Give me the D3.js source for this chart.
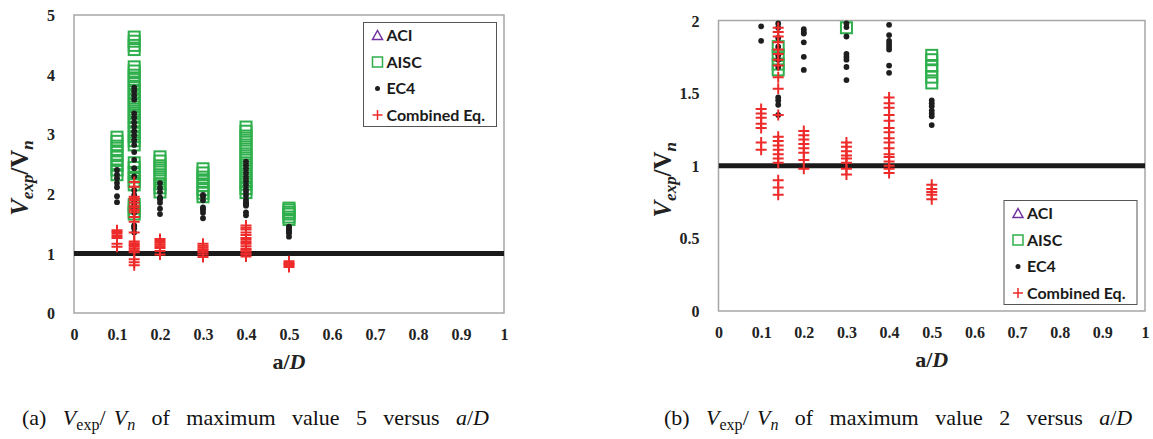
<!DOCTYPE html>
<html>
<head>
<meta charset="utf-8">
<script src="https://cdn.jsdelivr.net/npm/d3@7"></script>
<style>
  body { margin: 0; background: #fff; }
  svg text { white-space: pre; }
  .serif { font-family: "Liberation Serif", "DejaVu Serif", "Times New Roman", serif; }
</style>
</head>
<body>
<svg id="chart" width="1153" height="439"></svg>
<script>
// a/D columns
var aD = [0.1, 0.14, 0.2, 0.3, 0.4, 0.5];

// Vexp/Vn per column (same order as aD)
var aci = [[], [], [], [], [], []]; // no visible points in either panel
var aisc = [
  [2.95, 2.88, 2.8, 2.72, 2.64, 2.56, 2.48, 2.4, 2.32],
  [4.63, 4.56, 4.49, 4.42, 4.13, 4.06, 3.99, 3.92, 3.85, 3.78, 3.71, 3.64, 3.57, 3.5, 3.42, 3.35, 3.28, 3.2, 3.12, 3.04, 2.96, 2.89, 2.82, 2.52, 2.44, 2.36, 2.28, 2.21, 2.15, 1.82, 1.76, 1.7, 1.66],
  [2.62, 2.55, 2.47, 2.4, 2.32, 2.25, 2.17, 2.1, 2.03],
  [2.42, 2.35, 2.28, 2.21, 2.14, 2.07, 2.01, 1.95],
  [3.12, 3.05, 2.97, 2.9, 2.82, 2.75, 2.67, 2.6, 2.52, 2.45, 2.38, 2.3, 2.23, 2.16, 2.09, 2.02],
  [1.76, 1.73, 1.69, 1.66, 1.61, 1.57]
];
var ec4 = [
  [2.4, 2.32, 2.26, 2.18, 2.11, 1.96, 1.86],
  [3.78, 3.72, 3.65, 3.58, 3.35, 3.28, 3.2, 3.13, 3.05, 2.98, 2.9, 2.82, 2.7, 2.57, 2.43, 2.29, 2.06, 1.98, 1.95, 1.88, 1.82, 1.76, 1.73, 1.68, 1.47, 1.45, 1.42, 1.35],
  [2.18, 2.1, 2.03, 1.94, 1.92, 1.91, 1.85, 1.75, 1.66],
  [1.98, 1.955, 1.89, 1.77, 1.75, 1.73, 1.68, 1.59],
  [2.54, 2.48, 2.42, 2.35, 2.28, 2.22, 2.15, 2.08, 2.03, 1.97, 1.9, 1.86, 1.84, 1.82, 1.8, 1.69, 1.64],
  [1.45, 1.43, 1.41, 1.38, 1.36, 1.34, 1.28]
];
var combined = [
  [1.39, 1.36, 1.33, 1.29, 1.26, 1.16, 1.11],
  [2.2, 2.12, 1.95, 1.92, 1.89, 1.85, 1.8, 1.77, 1.73, 1.69, 1.61, 1.53, 1.35, 1.2, 1.17, 1.14, 1.11, 1.08, 1.05, 1.02, 0.9, 0.85, 0.8],
  [1.24, 1.21, 1.18, 1.15, 1.12, 1.09, 1.04, 0.98],
  [1.16, 1.13, 1.1, 1.07, 1.05, 1.02, 0.98, 0.94],
  [1.47, 1.43, 1.4, 1.35, 1.31, 1.26, 1.23, 1.19, 1.16, 1.12, 1.08, 1.06, 1.03, 1.0, 0.98, 0.95],
  [0.87, 0.84, 0.82, 0.8, 0.77]
];

var xTicks = [0, 0.1, 0.2, 0.3, 0.4, 0.5, 0.6, 0.7, 0.8, 0.9, 1];
var yTicksA = [0, 1, 2, 3, 4, 5];
var yTicksB = [0, 0.5, 1, 1.5, 2];
var legendLabels = ["ACI", "AISC", "EC4", "Combined Eq."];

var GREEN = "#2eaf4c", RED = "#ee2b2b", PURPLE = "#7030a0", DOT = "#1e1e1e";

function flat(series) {
  var out = [];
  series.forEach(function(col, i) { col.forEach(function(v) { out.push({x: aD[i], y: v}); }); });
  return out;
}

var svg = d3.select("#chart");

function panel(o) {
  var x = d3.scaleLinear().domain([0, 1]).range([o.left, o.right]);
  var y = d3.scaleLinear().domain([0, o.ymax]).range([o.bottom, o.top]);
  var g = svg.append("g");

  g.append("clipPath").attr("id", o.id + "clip")
    .append("rect").attr("x", o.left).attr("y", o.top - 0.5)
    .attr("width", o.right - o.left).attr("height", o.bottom - o.top + 1);

  // frame
  g.append("rect").attr("x", o.left).attr("y", o.top)
    .attr("width", o.right - o.left).attr("height", o.bottom - o.top)
    .attr("fill", "none").attr("stroke", "#a6a6a6").attr("stroke-width", 1.5);

  // axes (labels only)
  var xa = g.append("g").attr("transform", "translate(0," + (o.bottom + 13) + ")")
    .call(d3.axisBottom(x).tickValues(xTicks).tickSize(0).tickFormat(d3.format("")));
  var ya = g.append("g").attr("transform", "translate(" + (o.left - 16) + ",0)")
    .call(d3.axisLeft(y).tickValues(o.yticks).tickSize(0).tickFormat(d3.format("")));
  [xa, ya].forEach(function(a) {
    a.attr("font-family", null);
    a.select(".domain").remove();
    a.selectAll("text").attr("class", "serif")
      .attr("font-weight", "bold").attr("font-size", 16).attr("fill", "#222");
  });
  ya.selectAll("text").attr("dy", "0.35em");

  var plot = g.append("g").attr("clip-path", "url(#" + o.id + "clip)");

  // reference line Vexp/Vn = 1
  plot.append("line").attr("x1", x(0)).attr("x2", x(1))
    .attr("y1", y(1)).attr("y2", y(1))
    .attr("stroke", "#1a1a1a").attr("stroke-width", 5);

  var keep = function(d) { return d.y <= o.ymax; };

  plot.selectAll("rect.aisc").data(flat(aisc).filter(keep)).enter().append("rect")
    .attr("class", "aisc")
    .attr("x", function(d) { return x(d.x) - 5.5; })
    .attr("y", function(d) { return y(d.y) - 5.5; })
    .attr("width", 11).attr("height", 11)
    .attr("fill", "none").attr("stroke", GREEN).attr("stroke-width", 2);

  plot.selectAll("path.aci").data(flat(aci).filter(keep)).enter().append("path")
    .attr("class", "aci")
    .attr("d", d3.symbol(d3.symbolTriangle2, 60))
    .attr("transform", function(d) { return "translate(" + x(d.x) + "," + y(d.y) + ")"; })
    .attr("fill", "none").attr("stroke", PURPLE).attr("stroke-width", 1.5);

  plot.selectAll("circle.ec4").data(flat(ec4).filter(keep)).enter().append("circle")
    .attr("class", "ec4")
    .attr("cx", function(d) { return x(d.x); })
    .attr("cy", function(d) { return y(d.y); })
    .attr("r", 2.9).attr("fill", DOT);

  plot.selectAll("path.comb").data(flat(combined).filter(keep)).enter().append("path")
    .attr("class", "comb")
    .attr("d", "M-5.5,0H5.5M0,-5.5V5.5")
    .attr("transform", function(d) { return "translate(" + x(d.x) + "," + y(d.y) + ")"; })
    .attr("stroke", RED).attr("stroke-width", 2).attr("fill", "none");

  // legend
  var lg = g.append("g").attr("transform", "translate(" + o.legX + "," + o.legY + ")");
  lg.append("rect").attr("width", 133).attr("height", 104)
    .attr("fill", "#fff").attr("stroke", "#555").attr("stroke-width", 1);
  var rows = lg.selectAll("g.row").data(legendLabels).enter().append("g")
    .attr("transform", function(d, i) { return "translate(0," + (13 + i * 26.5) + ")"; });
  rows.append("text").attr("x", 23).attr("dy", "0.35em")
    .attr("font-family", "Lato, sans-serif").attr("font-weight", "bold")
    .attr("font-size", 16).attr("fill", "#1a1a1a").text(function(d) { return d; });
  rows.each(function(d, i) {
    var r = d3.select(this);
    if (i === 0) r.append("path").attr("d", "M14,-5L19,4H9Z").attr("fill", "none")
      .attr("stroke", PURPLE).attr("stroke-width", 1.5);
    if (i === 1) r.append("rect").attr("x", 9).attr("y", -5).attr("width", 10).attr("height", 10)
      .attr("fill", "none").attr("stroke", GREEN).attr("stroke-width", 1.5);
    if (i === 2) r.append("circle").attr("cx", 14).attr("cy", 0).attr("r", 2.5).attr("fill", DOT);
    if (i === 3) r.append("path").attr("d", "M9,0H19M14,-5V5").attr("stroke", RED).attr("stroke-width", 1.5);
  });

  // x title
  var xt = g.append("text").attr("class", "serif").attr("x", (o.left + o.right) / 2).attr("y", o.bottom + 56)
    .attr("text-anchor", "middle")
    .attr("font-weight", "bold").attr("font-size", 22).attr("fill", "#222");
  xt.append("tspan").text("a/");
  xt.append("tspan").attr("font-style", "italic").text("D");

  // y title
  var yt = g.append("text").attr("class", "serif")
    .attr("transform", "translate(" + o.ytX + "," + ((o.top + o.bottom) / 2 + 14) + ") rotate(-90)")
    .attr("text-anchor", "middle")
    .attr("font-weight", "bold").attr("font-size", 25).attr("fill", "#222");
  yt.append("tspan").attr("font-style", "italic").text("V");
  yt.append("tspan").attr("font-style", "italic").attr("font-size", 17).attr("dy", 5).text("exp");
  yt.append("tspan").attr("dy", -5).text("/V");
  yt.append("tspan").attr("font-style", "italic").attr("font-size", 17).attr("dy", 5).text("n");

  // caption
  var cp = g.append("text").attr("class", "serif").attr("x", o.capX).attr("y", 425)
    .attr("font-size", 22).attr("fill", "#111").attr("word-spacing", 2.7);
  cp.append("tspan").text(o.capTag + "  ");
  cp.append("tspan").attr("font-style", "italic").text("V");
  cp.append("tspan").attr("font-size", 16).attr("dy", 5).text("exp");
  cp.append("tspan").attr("dy", -5).text("/ ");
  cp.append("tspan").attr("font-style", "italic").text("V");
  cp.append("tspan").attr("font-style", "italic").attr("font-size", 16).attr("dy", 5).text("n");
  cp.append("tspan").attr("dy", -5).text("  of  maximum  value  " + o.ymax + "  versus  ");
  cp.append("tspan").attr("font-style", "italic").text("a");
  cp.append("tspan").text("/");
  cp.append("tspan").attr("font-style", "italic").text("D");
}

panel({id: "a", left: 74, right: 504, top: 15, bottom: 313, ymax: 5, yticks: yTicksA,
       legX: 363.5, legY: 22.5, ytX: 28, capX: 22, capTag: "(a)"});
panel({id: "b", left: 718.5, right: 1145, top: 20.5, bottom: 311, ymax: 2, yticks: yTicksB,
       legX: 1004, legY: 200.5, ytX: 671, capX: 664, capTag: "(b)"});
</script>
</body>
</html>
